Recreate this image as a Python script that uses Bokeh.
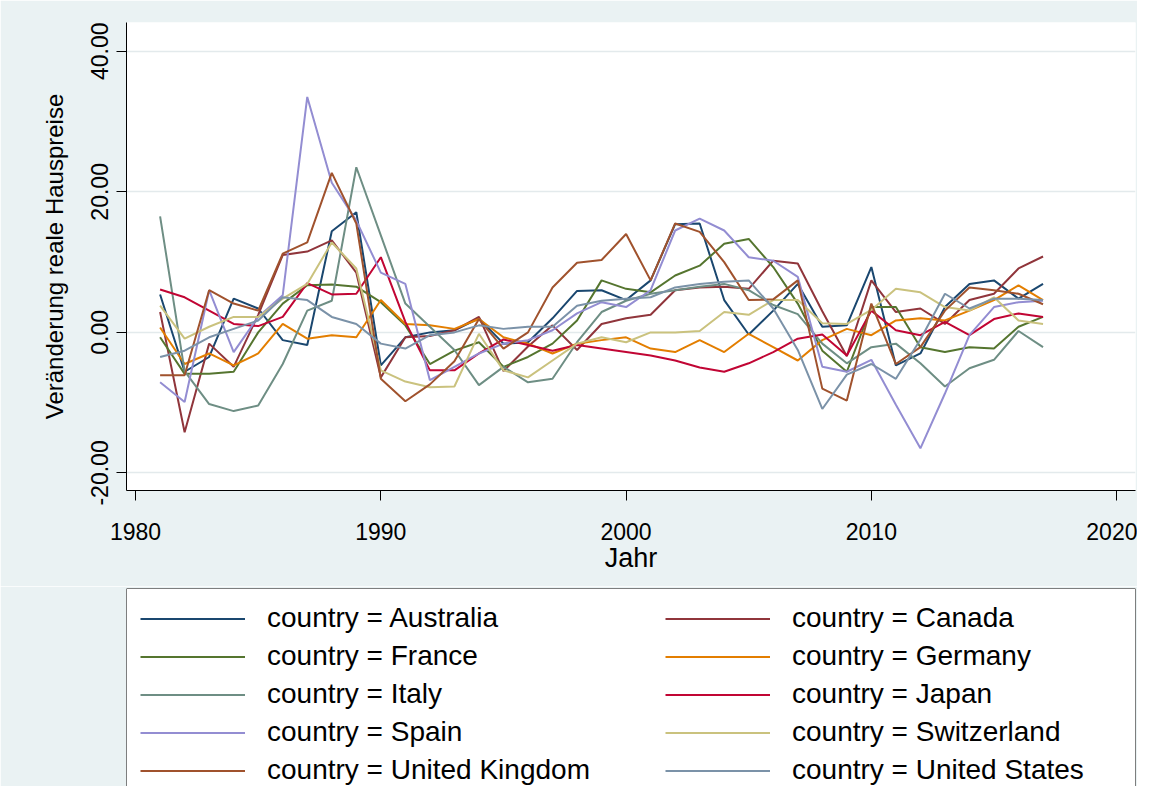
from bokeh.plotting import figure
from bokeh.models import (Legend, LegendItem, FixedTicker, NumeralTickFormatter, Range1d,
                          BasicTickFormatter, BoxAnnotation)
from bokeh.layouts import column
from bokeh.embed import file_html
from bokeh.resources import INLINE

years = list(range(1981, 2018))

australia = [5.4, -5.6, -3.5, 4.8, 3.4, -1.1, -1.8, 14.4, 17.1, -4.7,
             -0.7, 0.0, 0.3, 2.0, -1.6, -1.4, 2.0, 5.9, 6.0, 4.6,
             7.4, 15.4, 15.5, 4.6, -0.3, 3.1, 6.9, 0.8, 1.0, 9.3,
             -4.7, -3.0, 3.6, 6.9, 7.4, 4.8, 6.9]
canada = [2.9, -14.2, -1.6, -4.9, 2.5, 11.0, 11.5, 13.1, 8.5, -6.4,
          -0.7, -0.5, 0.3, 2.2, -5.5, -2.0, 1.0, -2.5, 1.2, 2.0,
          2.5, 6.0, 6.4, 6.5, 6.2, 10.2, 9.8, 3.0, -3.4, 7.4,
          2.9, 3.4, 1.2, 4.6, 5.5, 9.1, 10.8]
france = [-0.7, -5.9, -5.9, -5.6, 0.0, 4.1, 6.7, 6.8, 6.5, 4.3,
          1.0, -4.5, -2.6, -1.4, -4.9, -3.5, -1.6, 1.7, 7.4, 6.2,
          5.7, 8.1, 9.5, 12.6, 13.3, 9.3, 4.1, -2.6, -5.6, 3.6,
          3.6, -2.1, -2.8, -2.1, -2.3, 0.8, 2.2]
germany = [0.7, -4.5, -3.0, -4.7, -3.0, 1.2, -0.9, -0.4, -0.7, 4.6,
           1.2, 1.0, 0.5, 1.9, -0.7, -1.6, -3.0, -1.6, -1.1, -0.7,
           -2.3, -2.8, -1.1, -2.8, -0.2, -2.1, -4.0, -1.1, 0.5, -0.4,
           1.7, 2.0, 1.7, 3.1, 4.6, 6.7, 4.6]
italy = [16.5, -5.5, -10.2, -11.2, -10.4, -4.5, 3.1, 4.5, 23.5, 13.8,
         4.1, 0.8, -2.5, -7.5, -4.9, -7.1, -6.6, -1.4, 2.9, 4.5,
         5.5, 6.0, 6.5, 6.9, 6.0, 3.9, 2.6, -1.6, -4.4, -2.1,
         -1.6, -4.4, -7.7, -5.1, -3.9, 0.2, -2.1]
japan = [6.1, 5.0, 3.1, 1.2, 0.9, 2.2, 7.0, 5.4, 5.5, 10.7,
         1.5, -5.4, -5.4, -3.0, -1.0, -1.8, -2.6, -1.8, -2.3, -2.8,
         -3.3, -4.0, -5.0, -5.6, -4.4, -2.8, -0.9, -0.3, -3.3, 3.1,
         0.3, -0.4, 1.5, -0.4, 1.9, 2.7, 2.2]
spain = [-7.1, -9.9, 6.0, -2.8, 2.2, 5.3, 33.5, 21.3, 15.9, 8.5,
         6.9, -6.8, -4.9, -3.0, -1.6, -1.1, 0.3, 2.7, 4.3, 3.6,
         6.0, 14.5, 16.2, 14.5, 10.7, 10.2, 7.9, -4.9, -5.6, -3.9,
         -10.3, -16.5, -8.7, -0.4, 3.6, 4.3, 4.5]
switzerland = [3.8, -0.9, 0.8, 2.2, 2.2, 4.8, 6.9, 12.8, 9.1, -5.4,
               -7.0, -7.8, -7.7, -0.2, -5.4, -6.4, -4.0, -1.6, -0.7, -1.4,
               0.0, 0.0, 0.2, 2.9, 2.5, 4.6, 4.6, 1.3, 1.2, 3.2,
               6.2, 5.7, 3.6, 3.1, 5.0, 1.7, 1.2]
united_kingdom = [-6.1, -6.1, 6.0, 4.1, 3.1, 11.2, 12.8, 22.7, 15.5, -6.6,
                  -9.8, -7.4, -4.1, 1.9, -2.3, 0.0, 6.4, 9.9, 10.3, 14.0,
                  7.4, 15.5, 14.3, 10.0, 4.6, 4.7, 7.4, -8.0, -9.7, 4.1,
                  -4.5, -2.1, 3.1, 6.4, 6.0, 5.5, 4.0]
united_states = [-3.5, -2.6, -0.7, 0.5, 1.7, 5.0, 4.6, 2.2, 1.2, -1.6,
                 -2.3, -0.4, 0.0, 1.0, 0.5, 0.8, 0.8, 3.8, 4.5, 4.8,
                 5.0, 6.4, 6.9, 7.2, 7.4, 3.4, -2.5, -10.9, -6.0, -4.5,
                 -6.6, -1.0, 5.5, 3.4, 4.8, 4.8, 4.6]

country_names = ["Australia", "Canada", "France", "Germany", "Italy", "Japan",
                 "Spain", "Switzerland", "United Kingdom", "United States"]
series = [australia, canada, france, germany, italy, japan,
          spain, switzerland, united_kingdom, united_states]
colors = ["#1a476f", "#90353b", "#55752f", "#e37e00", "#6e8e84", "#c10534",
          "#938dd2", "#cac27e", "#a0522d", "#7b92a8"]

x_ticks = [1980, 1990, 2000, 2010, 2020]
y_ticks = [-20, 0, 20, 40]

FONT = "Liberation Sans"
BG = "#EAF2F3"

# ---------------- main chart ----------------
p = figure(width=1137, height=586, output_backend="svg", toolbar_location=None,
           x_range=Range1d(1979.63, 2020.77), y_range=Range1d(-22.5, 44.1),
           min_border_left=126, min_border_right=2, min_border_top=22,
           min_border_bottom=96)
p.background_fill_color = "white"
p.border_fill_color = BG
p.outline_line_color = None

for vals, col in zip(series, colors):
    p.line(years, vals, line_color=col, line_width=2)

for ax in (p.xaxis[0], p.yaxis[0]):
    ax.axis_line_color = "black"
    ax.axis_line_width = 1
    ax.major_tick_line_color = "black"
    ax.major_tick_out = 10
    ax.major_tick_in = 0
    ax.minor_tick_line_color = None
    ax.major_label_text_font = FONT
    ax.major_label_text_font_size = "23px"
    ax.major_label_text_color = "black"
    ax.axis_label_text_font = FONT
    ax.axis_label_text_font_style = "normal"
    ax.axis_label_text_color = "black"

p.xaxis.ticker = FixedTicker(ticks=x_ticks)
p.xaxis.formatter = BasicTickFormatter(use_scientific=False)
p.xaxis.axis_label = "Jahr"
p.xaxis.axis_label_text_font_size = "27px"
p.xaxis.major_label_standoff = 22
p.xaxis.axis_label_standoff = 0

p.yaxis.ticker = FixedTicker(ticks=y_ticks)
p.yaxis.formatter = NumeralTickFormatter(format="0.00")
p.yaxis.axis_label = "Veränderung reale Hauspreise"
p.yaxis.axis_label_text_font_size = "24px"
p.yaxis.major_label_orientation = "vertical"
p.yaxis.major_label_standoff = 8
p.yaxis.axis_label_standoff = 21

p.xgrid.grid_line_color = None
p.ygrid.grid_line_color = "#e3eaec"
p.ygrid.grid_line_width = 1.5

# ---------------- legend panel (frame = legend box) ----------------
lg = figure(width=1137, height=200, output_backend="svg", toolbar_location=None,
            x_range=Range1d(0, 1), y_range=Range1d(0, 1),
            x_axis_type=None, y_axis_type=None,
            min_border_left=122, min_border_right=2, min_border_top=2,
            min_border_bottom=0)
lg.background_fill_color = "white"
lg.border_fill_color = BG
lg.outline_line_color = None
lg.xgrid.grid_line_color = None
lg.ygrid.grid_line_color = None

# legend box: open at the bottom (continues below the picture, as in the original)
lg.add_layout(BoxAnnotation(left=0, right=1, top=1, bottom=-10,
                            fill_alpha=0.0, line_color="black", line_width=1,
                            line_alpha=1.0))

legend_renderers = []
for name, col in zip(country_names, colors):
    r = lg.line([-5, -4], [-5, -4], line_color=col, line_width=2)
    legend_renderers.append((name, r))

left_items = [LegendItem(label="country = " + n, renderers=[r])
              for i, (n, r) in enumerate(legend_renderers) if i % 2 == 0]
right_items = [LegendItem(label="country = " + n, renderers=[r])
               for i, (n, r) in enumerate(legend_renderers) if i % 2 == 1]

common = dict(label_text_font=FONT, label_text_font_size="28px",
              label_text_color="black",
              glyph_width=105, glyph_height=31, label_height=31,
              label_standoff=22, spacing=6, padding=0, margin=14,
              border_line_color=None, background_fill_alpha=0.0)

leg_a = Legend(items=left_items, location="top_left", label_width=300, **common)
leg_b = Legend(items=right_items, location="top_right", label_width=329, **common)
lg.add_layout(leg_a)
lg.add_layout(leg_b)

layout = column(p, lg, spacing=0)
open("out.html", "w").write(file_html(layout, INLINE))
